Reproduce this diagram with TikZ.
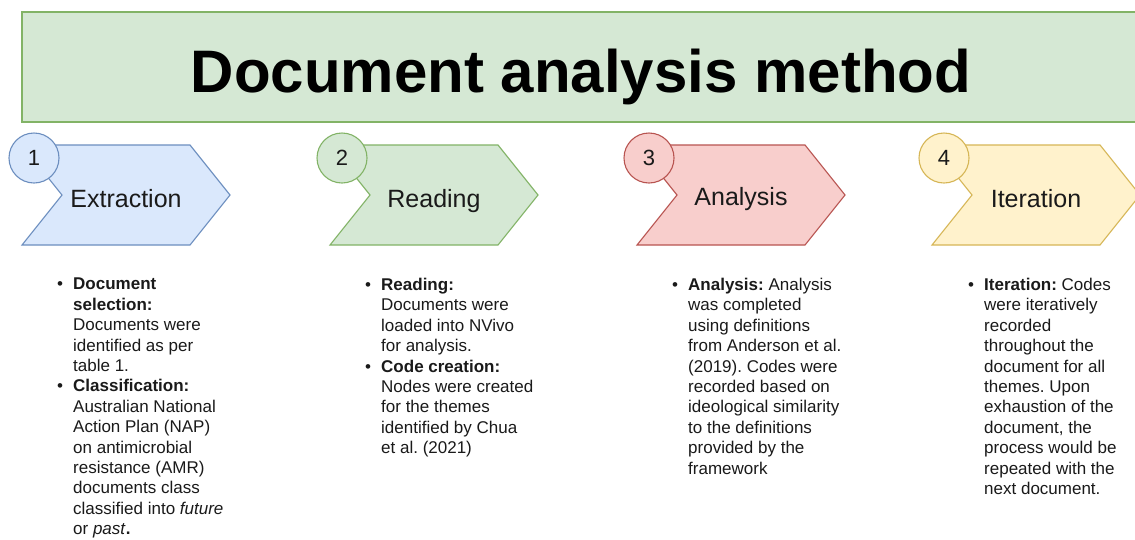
\documentclass[tikz,border=0pt]{standalone}
\usepackage{fontspec}
\setmainfont{Liberation Sans}
\frenchspacing
\definecolor{bluefill}{HTML}{DAE8FC}
\definecolor{bluedraw}{HTML}{6C8EBF}
\definecolor{greenfill}{HTML}{D5E8D4}
\definecolor{greendraw}{HTML}{82B366}
\definecolor{redfill}{HTML}{F8CECC}
\definecolor{reddraw}{HTML}{B85450}
\definecolor{yellowfill}{HTML}{FFF2CC}
\definecolor{yellowdraw}{HTML}{D6B656}
\definecolor{inktext}{HTML}{1A1A1A}

\tikzset{
  chevshape/.style={line width=1.1pt, line join=miter},
  numcircle/.style={circle, minimum size=50pt, inner sep=0pt, line width=1.1pt,
    font=\fontsize{22}{26}\selectfont, text=inktext},
  steplabel/.style={anchor=base, inner sep=0pt, font=\fontsize{25}{30}\selectfont, text=inktext},
  bodytext/.style={anchor=north west, inner sep=0pt, align=left,
    font=\fontsize{17}{20.4}\selectfont, text=inktext},
}

% bullet with hanging indent
\newcommand\bul{\makebox[16pt][l]{\textbullet}}
\newcommand\ind{\hspace*{16pt}}

% one process step: #1 left x, #2 fill, #3 stroke, #4 number, #5 label, #6 label baseline, #7 id
\newcommand\processstep[7]{%
  \draw[chevshape, fill=#2, draw=#3]
    ({#1},145) -- ({#1+168},145) -- ({#1+208},195) -- ({#1+168},245)
    -- ({#1},245) -- ({#1+40},195) -- cycle;
  \node[steplabel] (lab#7) at ({#1+104},#6) {#5};
  \node[numcircle, fill=#2, draw=#3] (num#7) at ({#1+12},158) {#4};
}

\begin{document}
\begin{tikzpicture}[x=1pt, y=-1pt]
  \useasboundingbox (0,0) rectangle (1135,539);
  \fill[white] (0,0) rectangle (1135,539);

  % title banner
  \draw[fill=greenfill, draw=greendraw, line width=1.1pt] (22,12) rectangle (1150,122);
  \node[anchor=base, inner sep=0pt, font=\fontsize{60}{72}\selectfont\bfseries, text=black]
    (title) at (581,92) {Document analysis method};

  % the four steps
  \processstep{22}{bluefill}{bluedraw}{1}{Extraction}{207}{1}
  \processstep{330}{greenfill}{greendraw}{2}{Reading}{207}{2}
  \processstep{637}{redfill}{reddraw}{3}{Analysis}{205}{3}
  \processstep{932}{yellowfill}{yellowdraw}{4}{Iteration}{207}{4}

  % descriptions
  \node[bodytext] (txt1) at (57,278) {%
    \bul\textbf{Document}\\
    \ind\textbf{selection:}\\
    \ind Documents were\\
    \ind identified as per\\
    \ind table 1.\\
    \bul\textbf{Classification:}\\
    \ind Australian National\\
    \ind Action Plan (NAP)\\
    \ind on antimicrobial\\
    \ind resistance (AMR)\\
    \ind documents class\\
    \ind classified into \textit{future}\\
    \ind or \textit{past}\textbf{.}};

  \node[bodytext] (txt2) at (365,278) {%
    \bul\textbf{Reading:}\\
    \ind Documents were\\
    \ind loaded into NVivo\\
    \ind for analysis.\\
    \bul\textbf{Code creation:}\\
    \ind Nodes were created\\
    \ind for the themes\\
    \ind identified by Chua\\
    \ind et al. (2021)};

  \node[bodytext] (txt3) at (672,278) {%
    \bul\textbf{Analysis:} Analysis\\
    \ind was completed\\
    \ind using definitions\\
    \ind from Anderson et al.\\
    \ind (2019). Codes were\\
    \ind recorded based on\\
    \ind ideological similarity\\
    \ind to the definitions\\
    \ind provided by the\\
    \ind framework};

  \node[bodytext] (txt4) at (968,278) {%
    \bul\textbf{Iteration:} Codes\\
    \ind were iteratively\\
    \ind recorded\\
    \ind throughout the\\
    \ind document for all\\
    \ind themes. Upon\\
    \ind exhaustion of the\\
    \ind document, the\\
    \ind process would be\\
    \ind repeated with the\\
    \ind next document.};
\end{tikzpicture}
\end{document}
